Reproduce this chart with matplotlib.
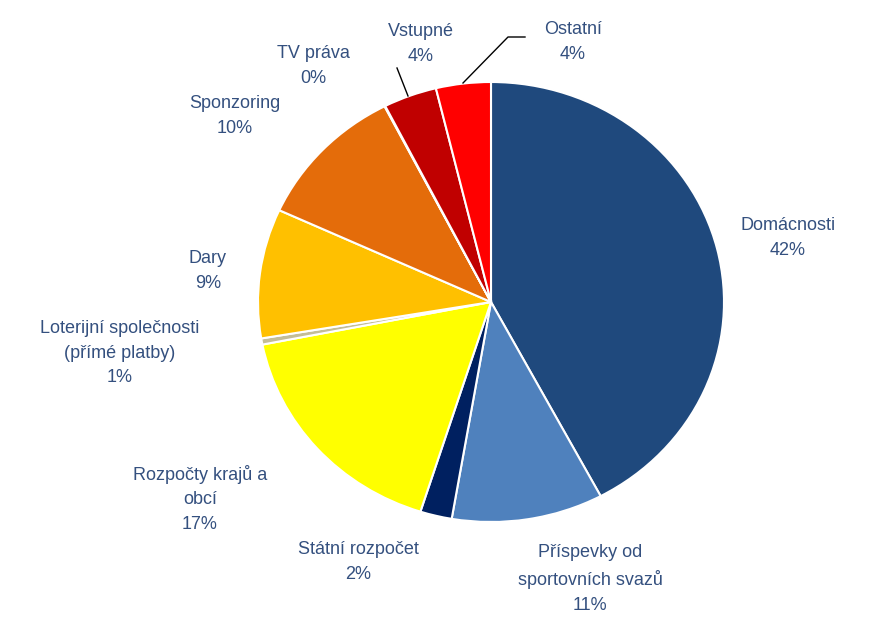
import matplotlib
matplotlib.use("Agg")
from matplotlib import pyplot as plt

labels = ["Domácnosti", "Příspevky od\nsportovních svazů", "Státní rozpočet",
          "Rozpočty krajů a\nobcí", "Loterijní společnosti\n(přímé platby)",
          "Dary", "Sponzoring", "TV práva", "Vstupné", "Ostatní"]
shares = [42.2, 10.5, 2.2, 17.0, 0.45, 9.5, 10.6, 0.05, 3.7, 3.8]
pct_text = ["42%", "11%", "2%", "17%", "1%", "9%", "10%", "0%", "4%", "4%"]
colors = ["#1F497D", "#4F81BD", "#002060", "#FFFF00", "#C4BD97",
          "#FFC000", "#E46C0A", "#7F7F7F", "#C00000", "#FF0000"]

# label centres in pixel coordinates of the original picture
label_px = [(788, 238), (590, 579), (358, 562), (200, 499), (120, 353),
            (208, 271), (235, 116), (313, 66), (421, 44), (573, 42)]

W, H = 881, 617
cx, cy, rx, ry = 491, 302, 233, 220


def to_data(px, py):
    return (px - cx) / rx, (cy - py) / ry


fig = plt.figure(figsize=(W / 100, H / 100), dpi=100)
ax = fig.add_axes([0, 0, 1, 1])
ax.pie(shares, colors=colors, startangle=90, counterclock=False, radius=1,
       wedgeprops=dict(edgecolor="white", linewidth=1.5))
ax.set_aspect("auto")
ax.set_xlim(-cx / rx, (W - cx) / rx)
ax.set_ylim(-(H - cy) / ry, cy / ry)
ax.axis("off")

txt_color = "#34507F"
for lab, p, (px, py) in zip(labels, pct_text, label_px):
    x, y = to_data(px, py)
    ax.text(x, y, lab + "\n" + p, ha="center", va="center", fontsize=13,
            family="Liberation Sans", color=txt_color, linespacing=1.58)

# leader lines
for pts in ([(397, 68), (408, 96)], [(463, 83), (508, 37), (525, 37)]):
    xs, ys = zip(*[to_data(a, b) for a, b in pts])
    ax.plot(xs, ys, color="black", linewidth=1)

fig.savefig("out.png", dpi=100, facecolor="white")
